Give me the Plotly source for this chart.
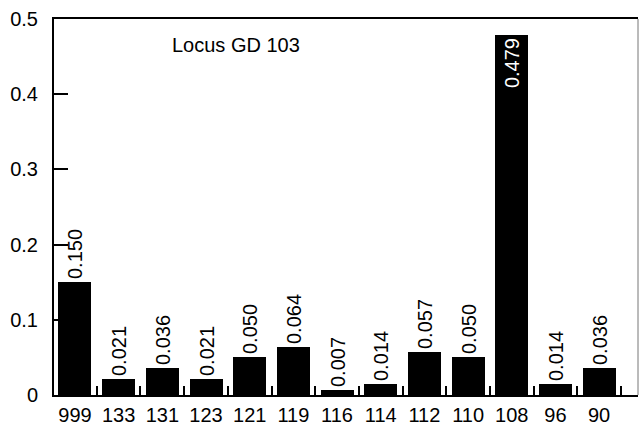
import plotly.graph_objects as go

# Allele sizes (bp) and their frequencies at locus GD 103
alleles = ["999", "133", "131", "123", "121", "119", "116", "114", "112", "110", "108", "96", "90"]
frequencies = [0.150, 0.021, 0.036, 0.021, 0.050, 0.064, 0.007, 0.014, 0.057, 0.050, 0.479, 0.014, 0.036]
y_ticks = [0, 0.1, 0.2, 0.3, 0.4, 0.5]
y_tick_text = ["0", "0.1", "0.2", "0.3", "0.4", "0.5"]

FONT = "Liberation Sans, Arial, Helvetica, sans-serif"

# Tallest bar carries its value inside (white), the rest above
top = max(frequencies)
positions = ["inside" if f == top else "outside" for f in frequencies]
text_colors = ["white" if f == top else "black" for f in frequencies]

fig = go.Figure(
    go.Bar(
        x=alleles,
        y=frequencies,
        width=0.755,
        marker=dict(color="black", line=dict(width=0)),
        text=[f"{f:.3f}" for f in frequencies],
        textposition=positions,
        insidetextanchor="end",
        textangle=-90,
        textfont=dict(family=FONT, size=20, color=text_colors),
        constraintext="none",
        cliponaxis=False,
        hoverinfo="skip",
    )
)

fig.add_annotation(
    text="Locus GD 103",
    xref="paper", yref="paper",
    x=0.199, y=0.931,
    xanchor="left", yanchor="middle",
    showarrow=False,
    font=dict(family=FONT, size=20, color="black"),
)

# thin right-hand frame edge
fig.add_shape(
    type="line", xref="paper", yref="paper",
    x0=1, x1=1, y0=0, y1=1,
    line=dict(color="#777777", width=1),
)

fig.update_layout(
    width=639,
    height=427,
    margin=dict(l=54, r=1, t=19, b=32),
    paper_bgcolor="white",
    plot_bgcolor="white",
    showlegend=False,
    bargap=0,
    xaxis=dict(
        type="category",
        range=[-0.48, 12.89],
        automargin=False,
        showgrid=False,
        zeroline=False,
        showline=True,
        linecolor="black",
        linewidth=2,
        mirror=True,
        ticks="inside",
        tickson="boundaries",
        ticklen=9,
        tickwidth=2,
        tickcolor="black",
        ticklabelstandoff=1,
        tickfont=dict(family=FONT, size=20, color="black"),
        fixedrange=True,
    ),
    yaxis=dict(
        range=[0, 0.5],
        automargin=False,
        tickvals=y_ticks,
        ticktext=y_tick_text,
        showgrid=False,
        zeroline=False,
        showline=True,
        linecolor="black",
        linewidth=2,
        ticks="inside",
        ticklen=14,
        tickwidth=2,
        tickcolor="black",
        ticklabelstandoff=10,
        tickfont=dict(family=FONT, size=20, color="black"),
        fixedrange=True,
    ),
)

fig.write_html("out.html", config={"displayModeBar": False})
